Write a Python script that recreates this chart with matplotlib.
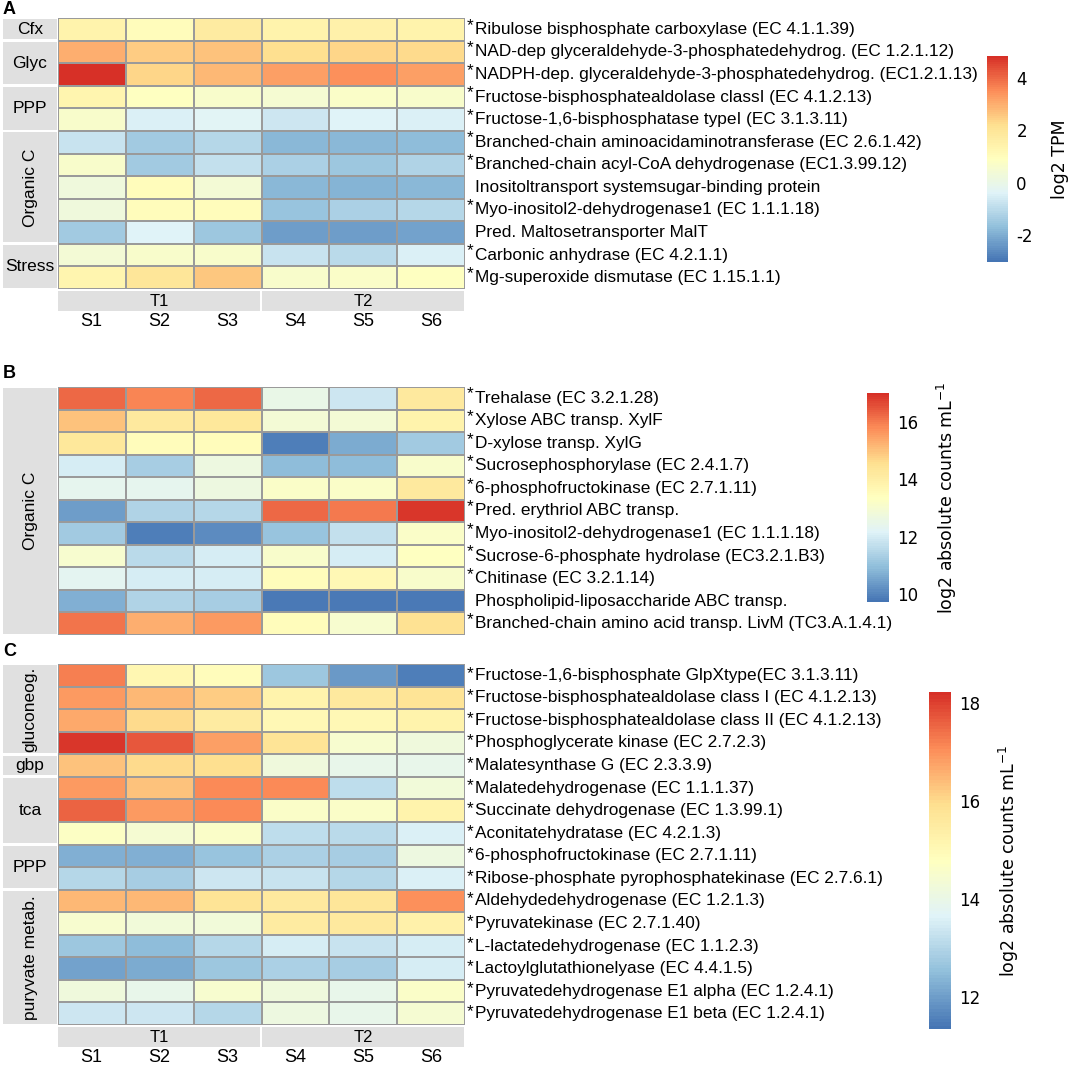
import numpy as np
import matplotlib
matplotlib.use('Agg')
import matplotlib.pyplot as plt
from matplotlib.colors import LinearSegmentedColormap
from matplotlib.patches import Rectangle

W, H = 1072, 1065
plt.rcParams['axes.unicode_minus'] = False

# ---------------- data ----------------
samples = ['S1', 'S2', 'S3', 'S4', 'S5', 'S6']
treatments = ['T1', 'T2']

labels_a = ['Ribulose bisphosphate carboxylase (EC 4.1.1.39)',
            'NAD-dep glyceraldehyde-3-phosphatedehydrog. (EC 1.2.1.12)',
            'NADPH-dep. glyceraldehyde-3-phosphatedehydrog. (EC1.2.1.13)',
            'Fructose-bisphosphatealdolase classI (EC 4.1.2.13)',
            'Fructose-1,6-bisphosphatase typeI (EC 3.1.3.11)',
            'Branched-chain aminoacidaminotransferase (EC 2.6.1.42)',
            'Branched-chain acyl-CoA dehydrogenase (EC1.3.99.12)',
            'Inositoltransport systemsugar-binding protein',
            'Myo-inositol2-dehydrogenase1 (EC 1.1.1.18)',
            'Pred. Maltosetransporter MalT',
            'Carbonic anhydrase (EC 4.2.1.1)',
            'Mg-superoxide dismutase (EC 1.15.1.1)']
star_a = [1, 1, 1, 1, 1, 1, 1, 0, 1, 0, 1, 1]
groups_a = [('Cfx', 1, 'h'), ('Glyc', 2, 'h'), ('PPP', 2, 'h'),
            ('Organic C', 5, 'v'), ('Stress', 2, 'h')]
values_a = [[1.4, 1.0, 1.7, 1.4, 1.5, 1.4],
            [3.0, 2.5, 2.7, 2.2, 2.4, 2.3],
            [4.8, 2.4, 2.8, 3.2, 3.5, 3.2],
            [1.3, 0.9, 0.6, 0.5, 0.7, 0.6],
            [0.6, -0.5, -0.3, -0.7, -0.4, -0.5],
            [-0.8, -1.4, -1.1, -1.8, -1.8, -1.7],
            [0.6, -1.4, -0.9, -1.3, -1.5, -1.2],
            [0.2, 1.0, 0.4, -1.8, -1.9, -1.8],
            [0.2, 1.0, 1.0, -1.6, -1.3, -1.1],
            [-1.4, -0.4, -1.5, -2.3, -2.3, -2.2],
            [0.4, 0.6, 0.6, -0.8, -1.0, -0.5],
            [1.3, 2.0, 2.6, 0.6, 0.7, 0.9]]
range_a = (-3.04, 4.85)
ticks_a = [-2, 0, 2, 4]

labels_b = ['Trehalase (EC 3.2.1.28)',
            'Xylose ABC transp. XylF',
            'D-xylose transp. XylG',
            'Sucrosephosphorylase (EC 2.4.1.7)',
            '6-phosphofructokinase (EC 2.7.1.11)',
            'Pred. erythriol ABC transp.',
            'Myo-inositol2-dehydrogenase1 (EC 1.1.1.18)',
            'Sucrose-6-phosphate hydrolase (EC3.2.1.B3)',
            'Chitinase (EC 3.2.1.14)',
            'Phospholipid-liposaccharide ABC transp.',
            'Branched-chain amino acid transp. LivM (TC3.A.1.4.1)']
star_b = [1, 1, 1, 1, 1, 1, 1, 1, 1, 0, 1]
groups_b = [('Organic C', 11, 'v')]
values_b = [[16.2, 15.9, 16.2, 12.5, 11.9, 14.2],
            [15.0, 14.2, 14.3, 12.9, 12.9, 13.8],
            [14.3, 13.5, 13.5, 9.9, 10.6, 11.2],
            [12.0, 11.3, 12.7, 10.9, 10.9, 13.1],
            [12.4, 12.4, 12.7, 13.2, 13.2, 14.2],
            [10.4, 11.4, 11.5, 16.2, 16.0, 16.9],
            [11.2, 9.9, 10.1, 11.1, 11.7, 13.2],
            [13.0, 11.6, 12.0, 13.1, 12.0, 13.3],
            [12.3, 12.0, 12.0, 13.5, 13.6, 13.1],
            [10.7, 11.4, 11.3, 9.8, 9.8, 9.8],
            [16.1, 15.3, 15.6, 13.5, 13.0, 14.5]]
range_b = (9.72, 17.0)
ticks_b = [10, 12, 14, 16]

labels_c = ['Fructose-1,6-bisphosphate GlpXtype(EC 3.1.3.11)',
            'Fructose-bisphosphatealdolase class I (EC 4.1.2.13)',
            'Fructose-bisphosphatealdolase class II (EC 4.1.2.13)',
            'Phosphoglycerate kinase (EC 2.7.2.3)',
            'Malatesynthase G (EC 2.3.3.9)',
            'Malatedehydrogenase (EC 1.1.1.37)',
            'Succinate dehydrogenase (EC 1.3.99.1)',
            'Aconitatehydratase (EC 4.2.1.3)',
            '6-phosphofructokinase (EC 2.7.1.11)',
            'Ribose-phosphate pyrophosphatekinase (EC 2.7.6.1)',
            'Aldehydedehydrogenase (EC 1.2.1.3)',
            'Pyruvatekinase (EC 2.7.1.40)',
            'L-lactatedehydrogenase (EC 1.1.2.3)',
            'Lactoylglutathionelyase (EC 4.4.1.5)',
            'Pyruvatedehydrogenase E1 alpha (EC 1.2.4.1)',
            'Pyruvatedehydrogenase E1 beta (EC 1.2.4.1)']
star_c = [1] * 16
groups_c = [('gluconeog.', 4, 'v'), ('gbp', 1, 'h'), ('tca', 3, 'h'),
            ('PPP', 2, 'h'), ('puryvate metab.', 6, 'v')]
values_c = [[17.2, 15.1, 14.9, 12.7, 11.9, 11.5],
            [16.9, 16.5, 16.2, 15.2, 15.6, 15.8],
            [16.7, 16.0, 15.5, 15.0, 15.0, 15.2],
            [18.1, 17.7, 16.8, 15.8, 14.5, 14.2],
            [16.3, 16.0, 15.9, 14.2, 13.9, 13.9],
            [16.9, 16.3, 17.1, 17.1, 13.2, 14.3],
            [17.6, 16.9, 17.1, 14.6, 14.6, 15.2],
            [14.7, 14.4, 14.6, 13.2, 13.1, 13.6],
            [12.3, 12.3, 12.6, 12.9, 12.8, 14.1],
            [13.0, 12.8, 13.4, 13.3, 13.0, 13.6],
            [16.5, 16.5, 15.8, 15.6, 15.7, 17.0],
            [14.5, 14.3, 14.3, 15.5, 15.6, 15.3],
            [12.7, 12.5, 13.0, 13.5, 13.3, 13.5],
            [12.1, 12.2, 12.7, 12.9, 12.8, 13.5],
            [14.2, 13.9, 14.5, 14.2, 13.9, 14.6],
            [13.4, 13.4, 13.0, 14.1, 13.9, 14.4]]
range_c = (11.35, 18.22)
ticks_c = [12, 14, 16, 18]

cbar_label_a = 'log2 TPM'
cbar_label_bc = 'log2 absolute counts mL$^{\\mathregular{-1}}$'

# ---------------- style ----------------
cmap = LinearSegmentedColormap.from_list(
    'pheat', ['#4575B4', '#91BFDB', '#E0F3F8', '#FFFFBF', '#FEE090', '#FC8D59', '#D73027'], N=100)
strip_col = '#e0e0e0'
edge_col = '#9a9a9a'
txt_font = 'Liberation Sans'
fs = 12.4      # row labels
fs_strip = 12.5

fig = plt.figure(figsize=(W / 100, H / 100), dpi=100)


def px_axes(x0, y0, x1, y1):
    return fig.add_axes([x0 / W, 1 - y1 / H, (x1 - x0) / W, (y1 - y0) / H])


def heat(y0, y1, values, labels, stars, groups, vrange, star_dy):
    ax = px_axes(58, y0, 465, y1)
    data = np.array(values)
    n = data.shape[0]
    mesh = ax.pcolormesh(data, cmap=cmap, vmin=vrange[0], vmax=vrange[1],
                         edgecolors=edge_col, linewidth=1.2)
    ax.set_xlim(0, 6)
    ax.set_ylim(n, 0)
    ax.axis('off')
    for i, lab in enumerate(labels):
        if stars[i]:
            ax.annotate('*', xy=(6, i + 0.5), xytext=(1.2, star_dy), textcoords='offset points',
                        ha='left', va='center', fontsize=fs, family=txt_font, annotation_clip=False)
        ax.annotate(lab, xy=(6, i + 0.5), xytext=(7.2, 0), textcoords='offset points',
                    ha='left', va='center', fontsize=fs, family=txt_font, annotation_clip=False)

    # row group strips
    sa = px_axes(3, y0, 57, y1)
    sa.set_xlim(0, 1)
    sa.set_ylim(n, 0)
    sa.axis('off')
    start = 0
    for name, size, orient in groups:
        sa.add_patch(Rectangle((0, start + 0.06), 1, size - 0.12, color=strip_col, lw=0))
        rot = 90 if orient == 'v' else 0
        sa.text(0.5, start + size / 2, name, ha='center', va='center', rotation=rot,
                fontsize=fs_strip, family=txt_font)
        start += size
    return mesh


def col_strips(y0):
    ca = px_axes(57, y0, 465, y0 + 20)
    ca.set_xlim(0, 6)
    ca.set_ylim(0, 1)
    ca.axis('off')
    for k, t in enumerate(treatments):
        ca.add_patch(Rectangle((k * 3 + 0.02, 0), 2.96, 1, color=strip_col, lw=0))
        ca.text(k * 3 + 1.5, 0.45, t, ha='center', va='center', fontsize=12, family=txt_font)
    for j, s in enumerate(samples):
        ca.text(j + 0.5, -0.55, s, ha='center', va='center', fontsize=13, family=txt_font)


def cbar(mesh, x0, y0, x1, y1, ticks, label, pad):
    cax = px_axes(x0, y0, x1, y1)
    cb = fig.colorbar(mesh, cax=cax)
    cb.outline.set_visible(False)
    cb.set_ticks(ticks)
    cax.tick_params(length=0, labelsize=12, pad=6)
    cb.set_label(label, fontsize=12.5, labelpad=pad)


m_a = heat(18, 289, values_a, labels_a, star_a, groups_a, range_a, 3)
col_strips(291)
cbar(m_a, 987, 56, 1008, 262, ticks_a, cbar_label_a, 13)

m_b = heat(387, 635, values_b, labels_b, star_b, groups_b, range_b, 3)
cbar(m_b, 867, 393, 889, 602, ticks_b, cbar_label_bc, 12)

m_c = heat(664, 1025, values_c, labels_c, star_c, groups_c, range_c, 1.5)
col_strips(1027)
cbar(m_c, 929, 692, 951, 1029, ticks_c, cbar_label_bc, 12)

for letter, yy in [('A', 10), ('B', 373), ('C', 651)]:
    fig.text(3 / W, 1 - yy / H, letter, fontsize=13, fontweight='bold', family=txt_font,
             ha='left', va='center')

plt.savefig('out.png', dpi=100)
